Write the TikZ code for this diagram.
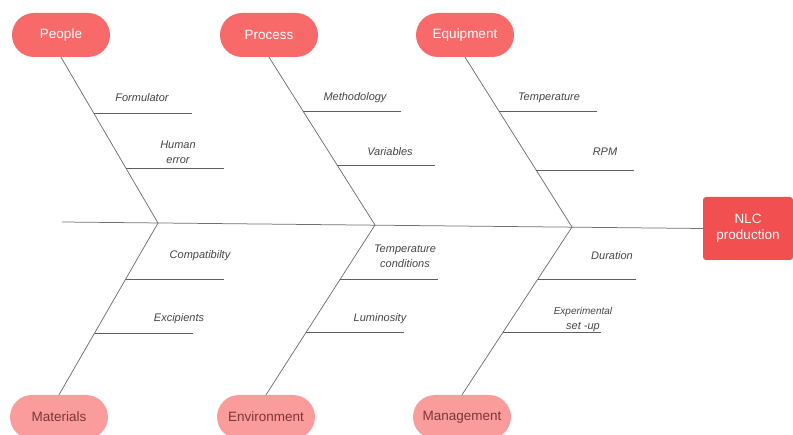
\documentclass[tikz,border=0pt]{standalone}
\usepackage{fontspec}
\setmainfont{Liberation Sans}
\usetikzlibrary{calc}
\definecolor{topred}{HTML}{F86A6A}
\definecolor{botpink}{HTML}{FA9C9C}
\definecolor{botText}{HTML}{7E3535}
\definecolor{boxred}{HTML}{F14F50}
\definecolor{lineg}{HTML}{707070}
\definecolor{labg}{HTML}{454545}
\tikzset{
  toppill/.style={rounded corners=22pt, fill=topred, minimum width=98pt, minimum height=44pt,
    text=white, font=\fontsize{13.5}{15}\selectfont, inner sep=0pt},
  botpill/.style={rounded corners=22pt, fill=botpink, minimum width=98pt, minimum height=44pt,
    text=botText, font=\fontsize{13.5}{15}\selectfont, inner sep=0pt},
  effect/.style={rounded corners=3pt, fill=boxred, minimum width=90pt, minimum height=63pt,
    text=white, font=\fontsize{13.5}{16}\selectfont, align=center, inner sep=0pt},
  bone/.style={draw=lineg, line width=0.75pt},
  ribline/.style={draw=lineg!85!black, line width=0.8pt},
  lab/.style={text=labg, font=\fontsize{11}{15}\itshape, align=center, inner sep=0pt}
}
\begin{document}
\begin{tikzpicture}[x=1pt,y=-1pt]
\useasboundingbox (0,0) rectangle (793,435);
% heads
\node[toppill] (people) at (61,35) {People};
\node[toppill] (process) at (269,35) {Process};
\node[toppill] (equip) at (465,35) {Equipment};
\node[botpill] (mat) at (59,417) {Materials};
\node[botpill] (env) at (266,417) {Environment};
\node[botpill] (mgmt) at (462,417) {Management};
\node[effect] (nlc) at (748,228.5) {NLC\\production};
% spine
\coordinate (s0) at (62,222);
\coordinate (j1) at (158,223);
\coordinate (j2) at (375,225);
\coordinate (j3) at (572,227);
\draw[bone] (s0) -- (nlc.west);
% bones
\draw[bone] (people.south) -- (j1);
\draw[bone] (process.south) -- (j2);
\draw[bone] (equip.south) -- (j3);
\draw[bone] (mat.north) -- (j1);
\draw[bone] (env.north) -- (j2);
\draw[bone] (mgmt.north) -- (j3);
% rib starts
\coordinate (rp1) at ($(people.south)!0.337!(j1)$);
\coordinate (rp2) at ($(people.south)!0.669!(j1)$);
\coordinate (rq1) at ($(process.south)!0.321!(j2)$);
\coordinate (rq2) at ($(process.south)!0.643!(j2)$);
\coordinate (re1) at ($(equip.south)!0.318!(j3)$);
\coordinate (re2) at ($(equip.south)!0.665!(j3)$);
\coordinate (rm1) at ($(mat.north)!0.674!(j1)$);
\coordinate (rm2) at ($(mat.north)!0.360!(j1)$);
\coordinate (rv1) at ($(env.north)!0.682!(j2)$);
\coordinate (rv2) at ($(env.north)!0.365!(j2)$);
\coordinate (rg1) at ($(mgmt.north)!0.690!(j3)$);
\coordinate (rg2) at ($(mgmt.north)!0.369!(j3)$);
% ribs
\foreach \r in {rp1,rp2,rq1,rq2,re1,re2,rm1,rm2,rv1,rv2,rg1,rg2}
  \draw[ribline] (\r) -- ++(98,0);
% labels
\node[lab] (lp1) at (142,98) {Formulator};
\node[lab] (lp2) at (178,152.5) {Human\\error};
\node[lab] (lq1) at (355,98) {Methodology};
\node[lab] (lq2) at (390,152) {Variables};
\node[lab] (le1) at (549,98) {Temperature};
\node[lab] (le2) at (605,152) {RPM};
\node[lab] (lm1) at (200,256) {Compatibilty};
\node[lab] (lm2) at (179,319) {Excipients};
\node[lab] (lv1) at (405,256.5) {Temperature\\conditions};
\node[lab] (lv2) at (380,319) {Luminosity};
\node[lab] (lg1) at (612,256) {Duration};
\node[lab] (lg2) at (583,320) {\fontsize{10}{14}\selectfont Experimental\\set -up};
\end{tikzpicture}
\end{document}
